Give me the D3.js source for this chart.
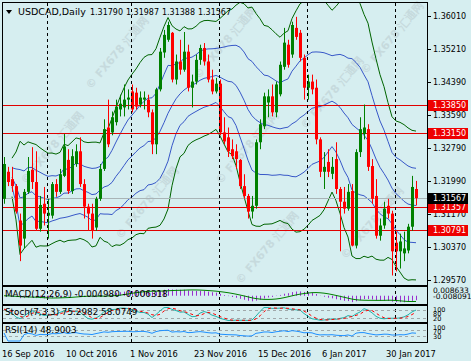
<!DOCTYPE html>
<html>
<head>
<meta charset="utf-8">
<script src="https://cdn.jsdelivr.net/npm/d3@7"></script>
<style>
  body { margin: 0; background: #d6eef0; }
  svg { display: block; }
  text { font-family: "DejaVu Sans", sans-serif; font-size: 8px; }
</style>
</head>
<body>
<svg id="chart" width="471" height="361"></svg>
<script>
// USDCAD daily bars (bar 0 = 16 Sep 2016)
var opens = [1.3155,1.3221,1.3203,1.3186,1.3102,1.3058,1.3172,1.3226,1.3196,1.3082,
  1.3143,1.3114,1.3114,1.3191,1.3172,1.3211,1.3250,1.3174,1.3240,1.3271,
  1.3191,1.3136,1.3119,1.3085,1.3155,1.3228,1.3329,1.3317,1.3342,1.3373,
  1.3378,1.3397,1.3417,1.3414,1.3385,1.3397,1.3397,1.3366,1.3288,1.3422,
  1.3512,1.3543,1.3560,1.3446,1.3490,1.3470,1.3514,1.3426,1.3441,1.3494,
  1.3523,1.3490,1.3446,1.3417,1.3436,1.3317,1.3305,1.3276,1.3271,1.3250,
  1.3186,1.3162,1.3124,1.3138,1.3293,1.3332,1.3390,1.3405,1.3366,1.3410,
  1.3477,1.3531,1.3507,1.3572,1.3560,1.3499,1.3426,1.3441,1.3426,1.3300,
  1.3221,1.3245,1.3216,1.3252,1.3179,1.3148,1.3131,1.3174,1.3041,1.3269,
  1.3313,1.3325,1.3235,1.3162,1.3065,1.3090,1.3138,1.3119,1.3048,1.3027,
  1.3022,1.3029,1.3087,1.31790];
var highs = [1.3257,1.3233,1.3233,1.3191,1.3119,1.3179,1.3257,1.3281,1.3271,1.3162,
  1.3184,1.3155,1.3196,1.3203,1.3228,1.3313,1.3276,1.3276,1.3288,1.3305,
  1.3203,1.3143,1.3143,1.3160,1.3240,1.3349,1.3397,1.3368,1.3397,1.3409,
  1.3434,1.3422,1.3434,1.3426,1.3417,1.3417,1.3409,1.3373,1.3426,1.3523,
  1.3567,1.3587,1.3562,1.3507,1.3543,1.3562,1.3531,1.3458,1.3507,1.3531,
  1.3535,1.3507,1.3470,1.3450,1.3446,1.3354,1.3329,1.3300,1.3288,1.3252,
  1.3215,1.3167,1.3162,1.3300,1.3349,1.3414,1.3422,1.3434,1.3441,1.3490,
  1.3572,1.3543,1.3587,1.3599,1.3567,1.3507,1.3458,1.3458,1.3446,1.3305,
  1.3269,1.3276,1.3257,1.3293,1.3184,1.3184,1.3191,1.3191,1.3276,1.3354,
  1.3385,1.3337,1.3252,1.3203,1.3107,1.3148,1.3155,1.3126,1.3075,1.3070,
  1.3075,1.3094,1.3211,1.31987];
var lows = [1.3143,1.3186,1.3172,1.3119,1.3003,1.3034,1.3167,1.3179,1.3077,1.3075,
  1.3090,1.3058,1.3107,1.3160,1.3167,1.3208,1.3167,1.3167,1.3233,1.3184,
  1.3107,1.3077,1.3058,1.3077,1.3150,1.3223,1.3281,1.3310,1.3334,1.3356,
  1.3356,1.3373,1.3366,1.3373,1.3378,1.3373,1.3354,1.3264,1.3264,1.3417,
  1.3499,1.3538,1.3439,1.3434,1.3458,1.3465,1.3417,1.3378,1.3434,1.3482,
  1.3480,1.3439,1.3410,1.3412,1.3310,1.3288,1.3257,1.3252,1.3228,1.3179,
  1.3155,1.3107,1.3107,1.3131,1.3276,1.3325,1.3354,1.3356,1.3354,1.3405,
  1.3470,1.3475,1.3499,1.3543,1.3490,1.3397,1.3397,1.3410,1.3288,1.3208,
  1.3179,1.3208,1.3203,1.3167,1.3027,1.3119,1.3126,1.3039,1.3034,1.3257,
  1.3300,1.3223,1.3143,1.3058,1.3053,1.3082,1.3107,1.2968,1.2978,1.2985,
  1.3003,1.3022,1.3077,1.31388];
var closes = [1.3240,1.3196,1.3186,1.3124,1.3041,1.3172,1.3223,1.3196,1.3082,1.3140,
  1.3119,1.3121,1.3191,1.3172,1.3215,1.3283,1.3174,1.3259,1.3271,1.3191,
  1.3136,1.3119,1.3077,1.3155,1.3228,1.3325,1.3288,1.3354,1.3380,1.3387,
  1.3397,1.3402,1.3373,1.3380,1.3402,1.3402,1.3366,1.3288,1.3422,1.3514,
  1.3555,1.3579,1.3446,1.3490,1.3470,1.3514,1.3426,1.3441,1.3494,1.3523,
  1.3490,1.3446,1.3417,1.3436,1.3317,1.3295,1.3271,1.3259,1.3252,1.3186,
  1.3162,1.3124,1.3138,1.3293,1.3337,1.3405,1.3405,1.3366,1.3434,1.3482,
  1.3536,1.3482,1.3579,1.3550,1.3499,1.3426,1.3441,1.3422,1.3300,1.3221,
  1.3233,1.3221,1.3233,1.3179,1.3148,1.3131,1.3172,1.3041,1.3269,1.3325,
  1.3329,1.3233,1.3155,1.3065,1.3090,1.3131,1.3119,1.3027,1.3027,1.3051,
  1.3034,1.3087,1.3184,1.31567];

var priceTicks = [1.36010,1.35210,1.34390,1.33590,1.32790,1.31990,1.31170,1.30370,1.29570];
var levelLines = [1.33850,1.33150,1.31357,1.30791];
var lastPrice = 1.31567;
var headerPrices = ["1.31790","1.31987","1.31388","1.31567"];
var dateLabels = ["16 Sep 2016","10 Oct 2016","1 Nov 2016","23 Nov 2016","15 Dec 2016","6 Jan 2017","30 Jan 2017"];
var dateBars = [0,16,32,48,64,80,96];
var monthStartBars = [11,32,54,76,98];

var svg = d3.select("#chart");
var left = 3, right = 427;
var x = d3.scaleLinear().domain([0, 103]).range([4, 416]);
var y = d3.scaleLinear().domain([1.29570, 1.36010]).range([280, 16]);

svg.append("rect").attr("width", 471).attr("height", 361).attr("fill", "#d6eef0");

// clip paths for every panel
var panels = {main: [3, 285], macd: [287, 304], stoch: [306, 322], rsi: [324, 342]};
var defs = svg.append("defs");
Object.keys(panels).forEach(function(k) {
  defs.append("clipPath").attr("id", "clip-" + k).append("rect")
    .attr("x", left).attr("y", panels[k][0]).attr("width", right - left).attr("height", panels[k][1] - panels[k][0]);
});

// watermarks
var wm = [[120,55],[228,45],[55,150],[150,205],[250,150],[335,95],[270,250],[375,225],[395,40]];
svg.append("g").selectAll("text").data(wm).enter().append("text")
  .attr("transform", function(d) { return "translate(" + d[0] + "," + d[1] + ") rotate(-50)"; })
  .attr("text-anchor", "middle").attr("fill", "#b8c8cc").attr("opacity", 0.5)
  .style("font-size", "11px").style("font-weight", "bold")
  .text("© FX678 汇通网");

var main = svg.append("g").attr("clip-path", "url(#clip-main)");

// month separators over all panels
monthStartBars.forEach(function(b) {
  svg.append("line").attr("x1", x(b) - 0.5).attr("x2", x(b) - 0.5).attr("y1", 3).attr("y2", 342)
    .attr("stroke", "#000").attr("stroke-dasharray", "3,3");
});

// Bollinger style bands from the closes
function sma(arr, n, i) {
  var s = 0, c = 0;
  for (var j = Math.max(0, i - n + 1); j <= i; j++) { s += arr[j]; c++; }
  return s / c;
}
function sd(arr, n, i) {
  var m = sma(arr, n, i), s = 0, c = 0;
  for (var j = Math.max(0, i - n + 1); j <= i; j++) { s += (arr[j] - m) * (arr[j] - m); c++; }
  return Math.sqrt(s / c);
}
var bands = closes.map(function(c, i) {
  var m = sma(closes, 20, i), s = sd(closes, 20, i);
  return {i: i, mid: m, u2: m + 2 * s, l2: m - 2 * s, u1: m + s, l1: m - s};
}).filter(function(d) { return d.i >= 2; });

function bandLine(key) {
  return d3.line().x(function(d) { return x(d.i); }).y(function(d) { return y(d[key]); });
}
[["u2", "#006400"], ["l2", "#006400"], ["u1", "#3858c8"], ["l1", "#3858c8"], ["mid", "#3858c8"]].forEach(function(b) {
  main.append("path").datum(bands).attr("d", bandLine(b[0]))
    .attr("fill", "none").attr("stroke", b[1]).attr("stroke-width", 1);
});

// horizontal levels
main.append("line").attr("x1", left).attr("x2", right).attr("y1", Math.round(y(lastPrice)) + 0.5).attr("y2", Math.round(y(lastPrice)) + 0.5)
  .attr("stroke", "#a9b4b6");
main.selectAll("line.lvl").data(levelLines).enter().append("line").attr("class", "lvl")
  .attr("x1", left).attr("x2", right)
  .attr("y1", function(d) { return Math.round(y(d)) + 0.5; }).attr("y2", function(d) { return Math.round(y(d)) + 0.5; })
  .attr("stroke", "#e00000");

// candles
var bars = d3.range(closes.length);
var candle = main.selectAll("g.c").data(bars).enter().append("g").attr("class", "c");
function col(i) { return closes[i] >= opens[i] ? "#008000" : "#ff0000"; }
candle.append("line")
  .attr("x1", function(i) { return x(i) + 0.5; }).attr("x2", function(i) { return x(i) + 0.5; })
  .attr("y1", function(i) { return y(highs[i]); }).attr("y2", function(i) { return y(lows[i]); })
  .attr("stroke", col);
candle.append("rect")
  .attr("x", function(i) { return x(i) - 1; }).attr("width", 3)
  .attr("y", function(i) { return y(Math.max(opens[i], closes[i])); })
  .attr("height", function(i) { return Math.max(1, Math.abs(y(opens[i]) - y(closes[i]))); })
  .attr("fill", col);

// MACD(12,26,9)
function ema(arr, n) {
  var k = 2 / (n + 1), out = [], prev = arr[0];
  arr.forEach(function(v, i) { prev = i === 0 ? v : v * k + prev * (1 - k); out.push(prev); });
  return out;
}
var e12 = ema(closes, 12), e26 = ema(closes, 26);
var macd = closes.map(function(c, i) { return e12[i] - e26[i]; });
var macdSig = macd.map(function(v, i) { return sma(macd, 9, i); });
var yM = d3.scaleLinear().domain([-0.008091, 0.008633]).range([303, 288]);
var gM = svg.append("g").attr("clip-path", "url(#clip-macd)");
gM.selectAll("line").data(bars).enter().append("line")
  .attr("x1", function(i) { return x(i) + 0.5; }).attr("x2", function(i) { return x(i) + 0.5; })
  .attr("y1", yM(0)).attr("y2", function(i) { return yM(macd[i]); })
  .attr("stroke", "#9a2fd0");
gM.append("path").datum(bars)
  .attr("d", d3.line().x(function(i) { return x(i); }).y(function(i) { return yM(macdSig[i]); }))
  .attr("fill", "none").attr("stroke", "#008000");

// Stochastic(7,3,3)
var rawK = bars.map(function(i) {
  var lo = d3.min(lows.slice(Math.max(0, i - 6), i + 1)), hi = d3.max(highs.slice(Math.max(0, i - 6), i + 1));
  return {lo: closes[i] - lo, rg: hi - lo};
});
var stK = bars.map(function(i) {
  var a = 0, b = 0;
  for (var j = Math.max(0, i - 2); j <= i; j++) { a += rawK[j].lo; b += rawK[j].rg; }
  return b === 0 ? 50 : 100 * a / b;
});
var stD = stK.map(function(v, i) { return sma(stK, 3, i); });
var yS = d3.scaleLinear().domain([0, 100]).range([321, 307]);
var gS = svg.append("g").attr("clip-path", "url(#clip-stoch)");
[20, 80].forEach(function(l) {
  gS.append("line").attr("x1", left).attr("x2", right).attr("y1", Math.round(yS(l)) + 0.5).attr("y2", Math.round(yS(l)) + 0.5)
    .attr("stroke", "#a0a8aa").attr("stroke-dasharray", "3,3");
});
gS.append("path").datum(bars)
  .attr("d", d3.line().x(function(i) { return x(i); }).y(function(i) { return yS(stK[i]); }))
  .attr("fill", "none").attr("stroke", "#20b2aa");
gS.append("path").datum(bars)
  .attr("d", d3.line().x(function(i) { return x(i); }).y(function(i) { return yS(stD[i]); }))
  .attr("fill", "none").attr("stroke", "#ff0000").attr("stroke-dasharray", "3,3");

// RSI(14)
var gains = bars.map(function(i) { return i === 0 ? 0 : Math.max(0, closes[i] - closes[i - 1]); });
var losses = bars.map(function(i) { return i === 0 ? 0 : Math.max(0, closes[i - 1] - closes[i]); });
var rsi = [], ag = 0, al = 0;
bars.forEach(function(i) {
  if (i === 0) { rsi.push(50); return; }
  if (i <= 14) { ag = sma(gains.slice(1), 14, i - 1); al = sma(losses.slice(1), 14, i - 1); }
  else { ag = (ag * 13 + gains[i]) / 14; al = (al * 13 + losses[i]) / 14; }
  rsi.push(al === 0 ? 100 : 100 - 100 / (1 + ag / al));
});
var yR = d3.scaleLinear().domain([0, 100]).range([341, 325]);
var gR = svg.append("g").attr("clip-path", "url(#clip-rsi)");
[30, 70].forEach(function(l) {
  gR.append("line").attr("x1", left).attr("x2", right).attr("y1", Math.round(yR(l)) + 0.5).attr("y2", Math.round(yR(l)) + 0.5)
    .attr("stroke", "#a0a8aa").attr("stroke-dasharray", "3,3");
});
gR.append("path").datum(bars)
  .attr("d", d3.line().x(function(i) { return x(i); }).y(function(i) { return yR(rsi[i]); }))
  .attr("fill", "none").attr("stroke", "#1e90ff");

// panel frames
Object.keys(panels).forEach(function(k) {
  svg.append("rect").attr("x", left - 0.5).attr("y", panels[k][0] - 0.5)
    .attr("width", right - left + 1).attr("height", panels[k][1] - panels[k][0] + 1)
    .attr("fill", "none").attr("stroke", "#000");
});

// price axis
var ax = svg.append("g");
ax.selectAll("line.t").data(priceTicks).enter().append("line")
  .attr("x1", right).attr("x2", right + 4)
  .attr("y1", function(d) { return Math.round(y(d)) + 0.5; }).attr("y2", function(d) { return Math.round(y(d)) + 0.5; })
  .attr("stroke", "#000");
ax.selectAll("text.t").data(priceTicks).enter().append("text")
  .attr("x", right + 6).attr("y", function(d) { return y(d) + 3; })
  .attr("fill", "#000").text(function(d) { return d.toFixed(5); });

function priceBox(v, bg) {
  var yy = Math.round(y(v));
  ax.append("rect").attr("x", right + 1).attr("y", yy - 5).attr("width", 40).attr("height", 11).attr("fill", bg);
  ax.append("text").attr("x", right + 6).attr("y", yy + 3).attr("fill", "#fff").text(v.toFixed(5));
}
levelLines.forEach(function(v) { priceBox(v, "#ee0000"); });
priceBox(lastPrice, "#000");

// indicator axis labels (squeezed like the platform draws them)
function sideLabel(txt, yy, size) {
  ax.append("text").attr("x", right + 6).attr("y", yy).attr("fill", "#000")
    .style("font-size", (size || 8) + "px").text(txt);
}
sideLabel("0.008633", 293, 7.5);
sideLabel("-0.008091", 299, 7.5);
sideLabel("100", 312, 6.5); sideLabel("80", 316, 6.5); sideLabel("20", 321, 6.5);
sideLabel("100", 330, 6.5); sideLabel("70", 334, 6.5); sideLabel("30", 339, 6.5);

// indicator titles
var ttl = svg.append("g");
ttl.append("text").attr("x", 5).attr("y", 297).style("font-size", "8.8px").text("MACD(12,26,9) -0.004980 -0.006318");
ttl.append("text").attr("x", 5).attr("y", 315).style("font-size", "8.8px").text("Stoch(7,3,3) 75.2982 58.0749");
ttl.append("text").attr("x", 5).attr("y", 333).style("font-size", "8.8px").text("RSI(14) 48.9003");

// header
svg.append("path").attr("d", "M6,10 L12,10 L9,14 Z").attr("fill", "#000");
svg.append("text").attr("x", 18).attr("y", 15).style("font-size", "9.5px").text("USDCAD,Daily");
svg.selectAll("text.hp").data(headerPrices).enter().append("text")
  .attr("x", function(d, i) { return 90 + i * 36; }).attr("y", 15)
  .style("font-size", "8.5px").attr("textLength", 33).attr("lengthAdjust", "spacingAndGlyphs")
  .text(function(d) { return d; });

// dates
svg.selectAll("text.d").data(dateBars).enter().append("text")
  .attr("x", function(b) { return x(b) - 2; }).attr("y", 357)
  .attr("fill", "#000").style("font-size", "8.3px").text(function(b, i) { return dateLabels[i]; });
</script>
</body>
</html>
